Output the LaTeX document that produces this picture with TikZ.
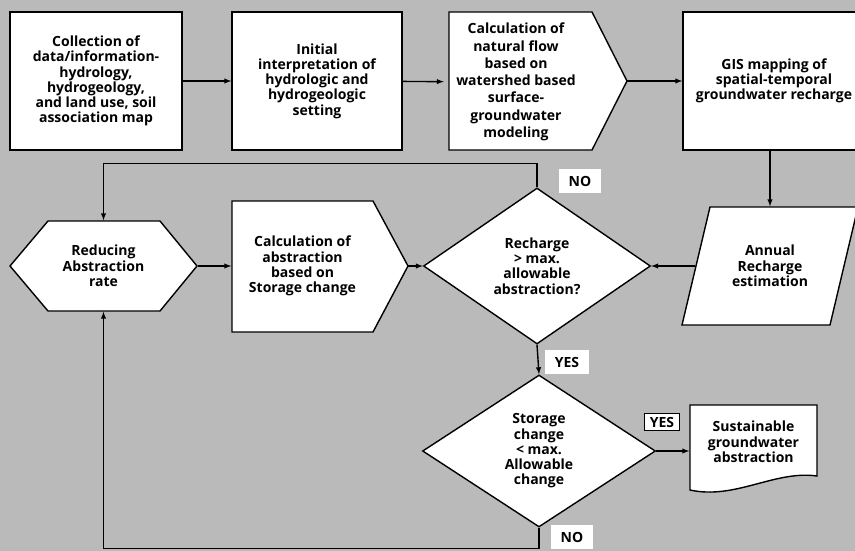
\documentclass[tikz,border=0pt]{standalone}
\usepackage{fontspec}
\setmainfont{Open Sans}
\usetikzlibrary{shapes.geometric}

\begin{document}
\begin{tikzpicture}[
  x=1pt,y=-1pt,
  >=latex,
  line width=1.4pt,
  every node/.style={font=\bfseries\fontsize{14}{15.3}\selectfont,align=center},
  box/.style={draw,fill=white,inner sep=0pt,minimum height=138pt},
  hole/.style={inner sep=0pt},
  shp/.style={draw,fill=white,line join=miter},
  dec/.style={diamond,draw,fill=white,inner sep=0pt},
  tag/.style={fill=white,inner xsep=10pt,inner ysep=7pt}
]
% --- Background ---
\fill[black!27] (0,0) rectangle (855,551);
\useasboundingbox (0,0) rectangle (855,551);

% --- Top row ---
\node[box,minimum width=172pt] (coll) at (96,81) {Collection of\\data/information-\\hydrology,\\hydrogeology,\\and land use, soil\\association map};
\node[box,minimum width=170pt] (init) at (317,81) {Initial\\interpretation of\\hydrologic and\\hydrogeologic\\setting};
\draw[shp] (449,12) -- (592,12) -- (627,81) coordinate (flowtip) -- (592,150) -- (449,150) -- cycle;
\node[hole,minimum width=143pt,minimum height=138pt] (flow) at (516,82) {Calculation of\\[2pt]natural flow\\[2pt]based on\\[2pt]watershed based\\[2pt]surface-\\[2pt]groundwater\\[2pt]modeling};
\node[box,minimum width=182pt] (gis) at (774,81) {GIS mapping of\\spatial-temporal\\groundwater recharge};

% --- Middle row ---
\draw[shp] (10,266) -- (48,221) -- (160,221) -- (197,266) -- (160,311) -- (48,311) -- cycle;
\node[hole,minimum width=187pt,minimum height=90pt] (cut) at (103.5,266) {Reducing\\Abstraction\\rate};
\draw[shp] (232,201) -- (373,201) -- (408,266) coordinate (abstip) -- (373,332) -- (232,332) -- cycle;
\node[hole,minimum width=141pt,minimum height=131pt] (abs) at (302.5,266) {Calculation of\\abstraction\\based on\\Storage change};
\node[dec,minimum width=227pt,minimum height=156pt] (chk1) at (537,266) {Recharge\\> max.\\allowable\\abstraction?};
\draw[shp] (682,325) -- (710,207) -- (858,207) -- (830,325) -- cycle;
\node[hole,minimum width=148pt,minimum height=118pt] (ann) at (770,266) {Annual\\Recharge\\estimation};

% --- Bottom row ---
\node[dec,minimum width=233pt,minimum height=152pt] (chk2) at (539,451) {Storage\\change\\< max.\\Allowable\\change};
\draw[shp] (690,405) -- (817,405) -- (817,476) .. controls (775,470) and (735,500) .. (690,490) -- cycle;
\node[hole,minimum width=127pt,minimum height=74pt] (sus) at (753.5,442) {Sustainable\\groundwater\\abstraction};

% --- Labels ---
\node[tag] (no1) at (580,181) {NO};
\node[tag] (yes1) at (567,362) {YES};
\node[tag,draw,line width=1pt,inner xsep=5pt,inner ysep=3pt] (yes2) at (662,422) {YES};
\node[tag] (no2) at (572,537) {NO};

% --- Arrows ---
\draw[->] (coll) -- (init);
\draw[->] (init) -- (flow);
\draw[->] (flowtip) -- (gis.west);
% GIS -> annual recharge -> check
\draw[->] (gis.south -| ann.north) -- (ann.north);
\draw[->] (ann.west) -- (chk1.east);
% NO: back to reducing
\draw[->] (chk1.north) -- ++(0,-24) -| (cut.north);
\draw[->] (cut.east) -- (abs.west);
\draw[->] (abstip) -- (chk1.west);
% YES: storage check
\draw[->] (chk1.south) -- (chk2.north);
\draw[->] (chk2.east) -- (chk2.east -| sus.west);
\draw[->] (chk2.south) -- ++(0,21) -| (cut.south);

\end{tikzpicture}
\end{document}
